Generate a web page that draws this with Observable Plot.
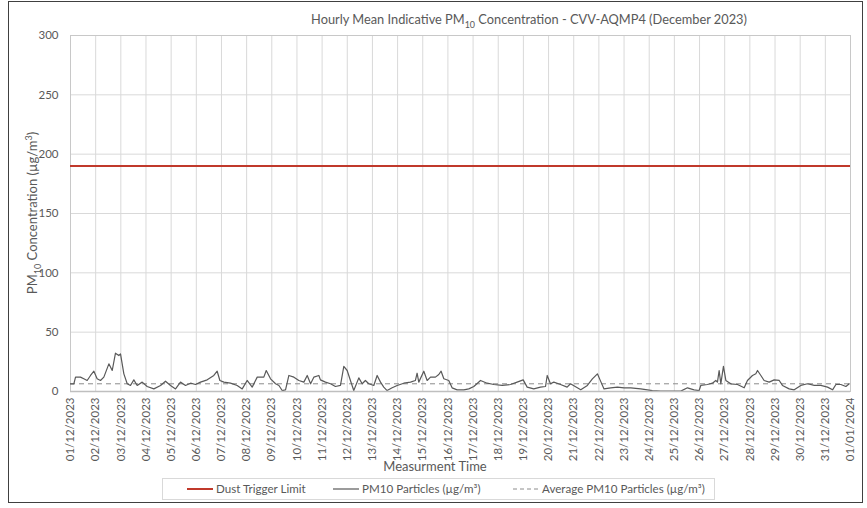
<!DOCTYPE html>
<html><head><meta charset="utf-8">
<script src="https://cdn.jsdelivr.net/npm/d3@7"></script>
<script src="https://cdn.jsdelivr.net/npm/@observablehq/plot@0.6"></script>
<style>
body{margin:0;background:#fff;font-family:Lato,"Open Sans",sans-serif;color:#595959;}
#wrap{position:relative;width:867px;height:508px;overflow:hidden;background:#fff;}
#border{position:absolute;left:8px;top:1px;width:855px;height:502px;border:1.5px solid #404040;box-sizing:border-box;}
#chart{position:absolute;left:0;top:0;}
.lbl{position:absolute;white-space:nowrap;color:#595959;}
#title{left:529px;top:11px;transform:translateX(-50%);font-size:12.8px;}
#ylab{left:32px;top:213px;transform:translate(-50%,-50%) rotate(-90deg);font-size:13px;}
#xlab{left:435px;top:458px;transform:translateX(-50%);font-size:13px;}
sub,sup{font-size:70%;line-height:0;}
#legend{position:absolute;left:162px;top:478px;width:553px;height:22px;border:1px solid #d9d9d9;box-sizing:border-box;font-size:11.6px;}
.item{position:absolute;top:3px;display:flex;align-items:center;gap:3px;white-space:nowrap;}
</style></head>
<body>
<div id="wrap">
<div id="chart"></div>
<div id="border"></div>
<div class="lbl" id="title">Hourly Mean Indicative PM<sub>10</sub> Concentration - CVV-AQMP4 (December 2023)</div>
<div class="lbl" id="ylab">PM<sub>10</sub> Concentration (µg/m<sup>3</sup>)</div>
<div class="lbl" id="xlab">Measurment Time</div>
<div id="legend"></div>
</div>
<script>
// Hours since 01/12/2023 00:00 and PM10 values (µg/m³)
const hours = [0,3.2,4.8,9.5,12.7,15.9,19.1,22.3,25.4,28.6,31.8,36.6,39.8,42.9,46.1,47.7,50.9,54.1,57.2,60.4,63.6,68.4,73.1,79.5,85.9,90.6,95.4,100.2,104.9,109.7,114.5,119.3,124.0,130.4,136.7,139.9,142.5,146.3,152.6,159.0,163.8,168.5,173.3,178.1,184.4,186.7,190.8,195.6,198.8,201.9,205.1,208.3,213.1,217.8,222.6,225.8,229.0,232.1,236.9,
238.4,243.2,248.0,252.7,257.5,260.7,263.9,267.0,270.2,275.0,278.2,281.3,284.5,289.3,292.5,295.7,298.8,302.0,306.8,311.6,317.9,324.3,329.0,330.6,332.2,337.0,340.2,343.4,348.1,351.3,353.5,356.1,360.8,364.0,368.8,375.2,379.9,384.7,391.1,397.4,403.8,411.7,419.7,426.0,431.8,435.6,441.9,448.3,453.1,454.7,457.8,461.0,467.4,473.7,476.9,
486.7,493.0,497.8,502.6,505.1,508.9,515.3,521.7,528.0,534.4,543.9,550.3,555.0,563.0,582.1,588.5,594.8,599.6,601.2,607.5,612.3,615.5,617.1,618.7,620.3,622.8,625.1,629.8,636.2,642.6,645.7,650.5,653.7,655.3,658.5,661.6,666.4,671.2,676.0,679.1,685.5,690.3,696.6,703.0,709.4,715.7,722.1,726.9,730.1,734.8,739.6,742.8];
const pm10 = [6.5,6.5,12.1,12.1,10.7,9.3,13.5,17.1,10.7,9.3,12.1,23.3,17.7,32.3,30.3,31.7,14.9,6.5,5.1,9.8,5.1,7.9,4.2,2.2,5.1,8.7,5.1,2.2,7.9,5.1,7.0,5.9,7.9,9.8,13.5,17.1,9.3,7.9,7.0,5.1,2.2,9.3,3.7,12.1,12.1,17.7,10.7,6.5,5.1,0.8,1.4,13.5,12.1,9.3,7.9,13.5,6.5,12.1,13.5,
9.8,7.9,6.5,4.2,5.1,21.1,17.7,9.3,0.8,11.5,6.5,9.3,6.5,5.1,13.5,7.9,3.7,0.8,3.1,5.1,7.0,7.9,9.3,15.4,7.9,17.1,9.3,12.1,12.1,14.3,17.1,10.7,9.3,3.1,1.4,1.4,2.2,4.2,9.3,7.0,5.9,5.1,5.9,7.9,9.8,3.7,2.2,3.7,4.2,13.5,6.5,7.9,5.9,3.7,6.5,
1.4,5.1,10.7,14.9,9.8,2.2,3.1,3.7,3.1,3.1,2.2,1.4,0.8,0.3,0.3,3.1,1.4,0.8,5.1,5.9,7.0,9.3,7.9,17.7,6.5,21.1,9.3,6.5,5.9,3.1,9.3,13.5,14.9,17.7,13.5,9.3,7.9,9.8,9.3,5.1,2.2,1.4,5.1,6.5,5.1,5.1,3.7,1.4,5.9,5.9,4.2,6.5];
const dustTriggerLimit = 190;
const averagePM10 = 6.5;
const yTicks = [0,50,100,150,200,250,300];
const xTickLabels = ["01/12/2023","02/12/2023","03/12/2023","04/12/2023","05/12/2023","06/12/2023","07/12/2023","08/12/2023","09/12/2023","10/12/2023","11/12/2023","12/12/2023","13/12/2023","14/12/2023","15/12/2023","16/12/2023","17/12/2023","18/12/2023","19/12/2023","20/12/2023","21/12/2023","22/12/2023","23/12/2023","24/12/2023","25/12/2023","26/12/2023","27/12/2023","28/12/2023","29/12/2023","30/12/2023","31/12/2023","01/01/2024"];

const parseDay = d3.utcParse("%d/%m/%Y");
const dayTicks = xTickLabels.map(parseDay);
const start = dayTicks[0];
const data = hours.map((h, i) => ({t: new Date(+start + h * 3600e3), v: pm10[i]}));

const chart = Plot.plot({
  width: 867, height: 470,
  marginLeft: 70, marginRight: 17, marginTop: 35, marginBottom: 79,
  style: {fontFamily: "Lato, 'Open Sans', sans-serif", fontSize: "11.5px", color: "#595959", background: "transparent"},
  x: {type: "utc", domain: [dayTicks[0], dayTicks[dayTicks.length - 1]]},
  y: {domain: [0, 300]},
  marks: [
    Plot.gridY(yTicks, {stroke: "#d9d9d9", strokeOpacity: 1}),
    Plot.gridX(dayTicks, {stroke: "#d9d9d9", strokeOpacity: 1}),
    Plot.frame({stroke: "#c8c8c8"}),
    Plot.axisY({ticks: yTicks, tickSize: 0, tickPadding: 12, label: null}),
    Plot.axisX({ticks: dayTicks, tickSize: 0, tickPadding: 6, tickRotate: -90, tickFormat: d3.utcFormat("%d/%m/%Y"), label: null}),
    Plot.ruleY([averagePM10], {stroke: "#8c8c8c", strokeWidth: 1, strokeDasharray: "5,4"}),
    Plot.line(data, {x: "t", y: "v", stroke: "#595959", strokeWidth: 1.2}),
    Plot.ruleY([dustTriggerLimit], {stroke: "#c0392b", strokeWidth: 2}),
    Plot.ruleY([0], {stroke: "#bfbfbf", strokeWidth: 1.5})
  ]
});
document.getElementById("chart").appendChild(chart);

const legendItems = [
  {label: "Dust Trigger Limit", stroke: "#c0392b", w: 2, dash: null, x: 24},
  {label: "PM10 Particles (µg/m³)", stroke: "#595959", w: 1.2, dash: null, x: 170},
  {label: "Average PM10 Particles (µg/m³)", stroke: "#8c8c8c", w: 1, dash: "4,3", x: 350}
];
const lg = document.getElementById("legend");
legendItems.forEach(it => {
  const d = document.createElement("div");
  d.className = "item";
  d.style.left = it.x + "px";
  d.innerHTML = `<svg width="26" height="10"><line x1="0" x2="26" y1="5" y2="5" stroke="${it.stroke}" stroke-width="${it.w}" ${it.dash ? `stroke-dasharray="${it.dash}"` : ""}/></svg><span>${it.label}</span>`;
  lg.appendChild(d);
});
</script>
</body></html>
